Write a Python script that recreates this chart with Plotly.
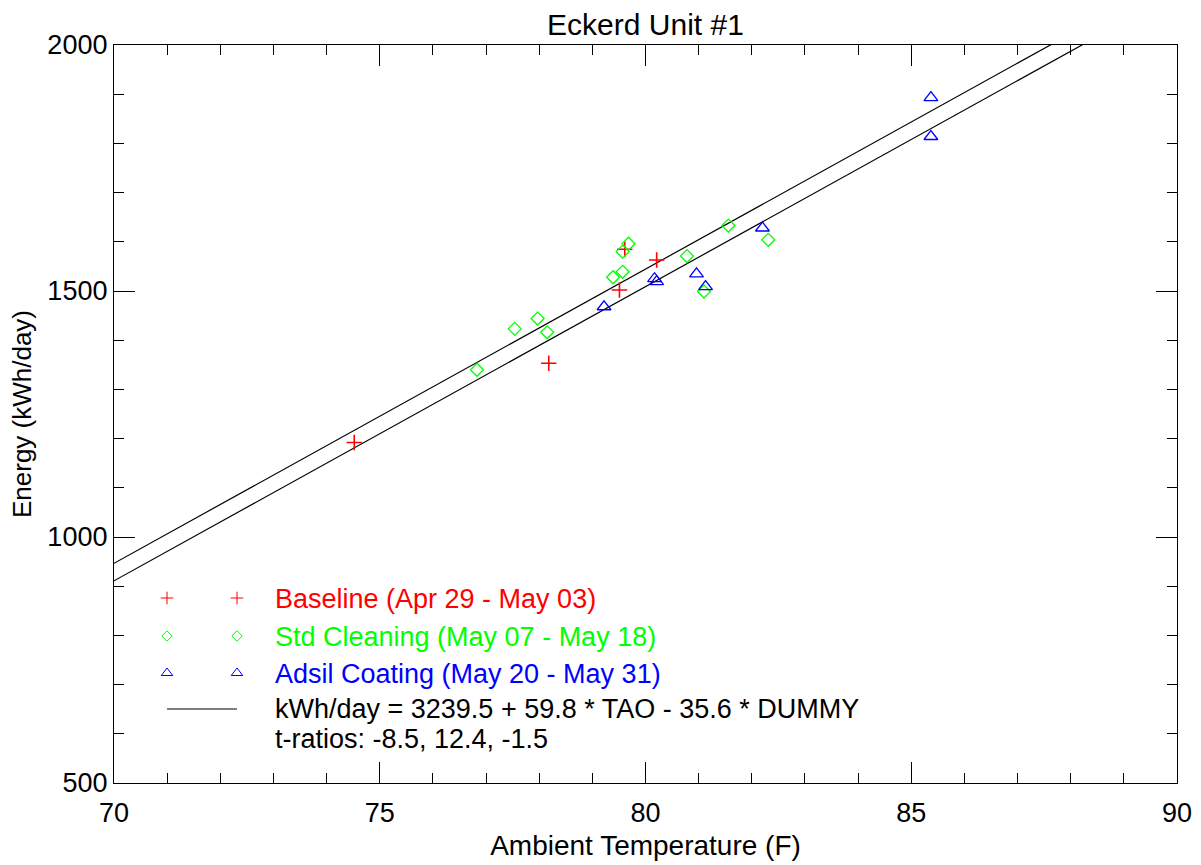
import plotly.graph_objects as go

# ---- data ----
baseline_x = [74.52, 78.18, 79.51, 79.61, 80.21]
baseline_y = [1192, 1353, 1502, 1585, 1563]

cleaning_x = [76.83, 77.54, 77.97, 78.15, 79.39, 79.57, 79.57, 79.68, 80.78, 81.10, 81.56, 82.31]
cleaning_y = [1340, 1423, 1444, 1416, 1528, 1539, 1580, 1596, 1571, 1499, 1633, 1604]

adsil_x = [79.22, 80.17, 80.21, 80.96, 81.13, 82.20, 85.37, 85.37]
adsil_y = [1468, 1525, 1519, 1535, 1509, 1628, 1893, 1814]

# regression: kWh/day = b0 + b1*TAO + b2*DUMMY (intercept negative, as the lines show)
b0, b1, b2 = -3239.5, 59.8, -35.6
fit_x = [70, 90]
fit_y0 = [b0 + b1 * t for t in fit_x]
fit_y1 = [b0 + b1 * t + b2 for t in fit_x]

legend_labels = ["Baseline (Apr 29 - May 03)",
                 "Std Cleaning (May 07 - May 18)",
                 "Adsil Coating (May 20 - May 31)"]
eq_text = "kWh/day = 3239.5 + 59.8 * TAO - 35.6 * DUMMY"
tr_text = "t-ratios: -8.5, 12.4, -1.5"

RED, GREEN, BLUE = "#ff0000", "#00ff00", "#0000ff"
FONT = "Liberation Sans, Arial, sans-serif"

W, H = 1201, 865
L, R, T, B = 114, 1177, 45, 783

fig = go.Figure()

fig.add_trace(go.Scatter(x=fit_x, y=fit_y0, mode="lines", line=dict(color="black", width=1.2),
                         showlegend=False, hoverinfo="skip"))
fig.add_trace(go.Scatter(x=fit_x, y=fit_y1, mode="lines", line=dict(color="black", width=1.2),
                         showlegend=False, hoverinfo="skip"))

fig.add_trace(go.Scatter(x=baseline_x, y=baseline_y, mode="markers", showlegend=False,
                         marker=dict(symbol="cross-thin-open", size=11, color=RED,
                                     line=dict(color=RED, width=1.6))))
fig.add_trace(go.Scatter(x=cleaning_x, y=cleaning_y, mode="markers", showlegend=False,
                         marker=dict(symbol="diamond-open", size=10, color=GREEN,
                                     line=dict(color=GREEN, width=1.3))))
fig.add_trace(go.Scatter(x=adsil_x, y=adsil_y, mode="markers", showlegend=False,
                         marker=dict(symbol="triangle-up-open", size=12, color=BLUE,
                                     line=dict(color=BLUE, width=1.3))))

# ---- legend glyphs on an overlay axis in pixel space ----
gx = [167, 237]
rows = [598, 636, 673]
syms = ["cross-thin-open", "diamond-open", "triangle-up-open"]
sizes = [9, 8, 10]
cols = [RED, GREEN, BLUE]
for r, s, sz, c in zip(rows, syms, sizes, cols):
    fig.add_trace(go.Scatter(x=gx, y=[r, r], mode="markers", xaxis="x2", yaxis="y2",
                             showlegend=False, hoverinfo="skip",
                             marker=dict(symbol=s, size=sz, color=c, line=dict(color=c, width=1))))
fig.add_trace(go.Scatter(x=gx, y=[709, 709], mode="lines", xaxis="x2", yaxis="y2",
                         showlegend=False, hoverinfo="skip", line=dict(color="black", width=1)))

LF = 27
ann = []
for r, txt, c in zip(rows, legend_labels, cols):
    ann.append(dict(x=273, y=r + 1, xref="x2", yref="y2", text=txt, showarrow=False,
                    xanchor="left", yanchor="middle", font=dict(family=FONT, size=LF, color=c)))
ann.append(dict(x=273, y=709, xref="x2", yref="y2", text=eq_text, showarrow=False,
                xanchor="left", yanchor="middle", font=dict(family=FONT, size=LF, color="black")))
ann.append(dict(x=273, y=739, xref="x2", yref="y2", text=tr_text, showarrow=False,
                xanchor="left", yanchor="middle", font=dict(family=FONT, size=LF, color="black")))

axis_common = dict(showline=True, linecolor="black", linewidth=1.3, mirror="allticks",
                   ticks="inside", ticklen=21, tickwidth=1, tickcolor="black",
                   showgrid=False, zeroline=False, automargin=False,
                   tickfont=dict(family=FONT, size=27, color="black"))

fig.update_layout(
    width=W, height=H,
    paper_bgcolor="white", plot_bgcolor="white",
    margin=dict(l=L, r=W - R, t=T, b=H - B, pad=0, autoexpand=False),
    title=dict(text="Eckerd Unit #1", x=(L + R) / 2 / W, xref="container", xanchor="center",
               y=1 - 24 / H, yref="container", yanchor="middle",
               font=dict(family=FONT, size=30, color="black")),
    xaxis=dict(range=[70, 90], tickvals=[70, 75, 80, 85, 90],
               minor=dict(dtick=1, ticklen=10, ticks="inside", tickcolor="black", tickwidth=1),
               title=dict(text="Ambient Temperature (F)", standoff=8,
                          font=dict(family=FONT, size=28, color="black")),
               ticklabelstandoff=5, **axis_common),
    yaxis=dict(range=[500, 2000], tickvals=[500, 1000, 1500, 2000],
               minor=dict(dtick=100, ticklen=10, ticks="inside", tickcolor="black", tickwidth=1),
               title=dict(text="Energy (kWh/day)", standoff=8,
                          font=dict(family=FONT, size=26, color="black")),
               ticklabelstandoff=0, **axis_common),
    xaxis2=dict(range=[L, R], overlaying="x", visible=False, fixedrange=True),
    yaxis2=dict(range=[B, T], overlaying="y", visible=False, fixedrange=True),
    annotations=ann,
)

fig.write_html("out.html")
